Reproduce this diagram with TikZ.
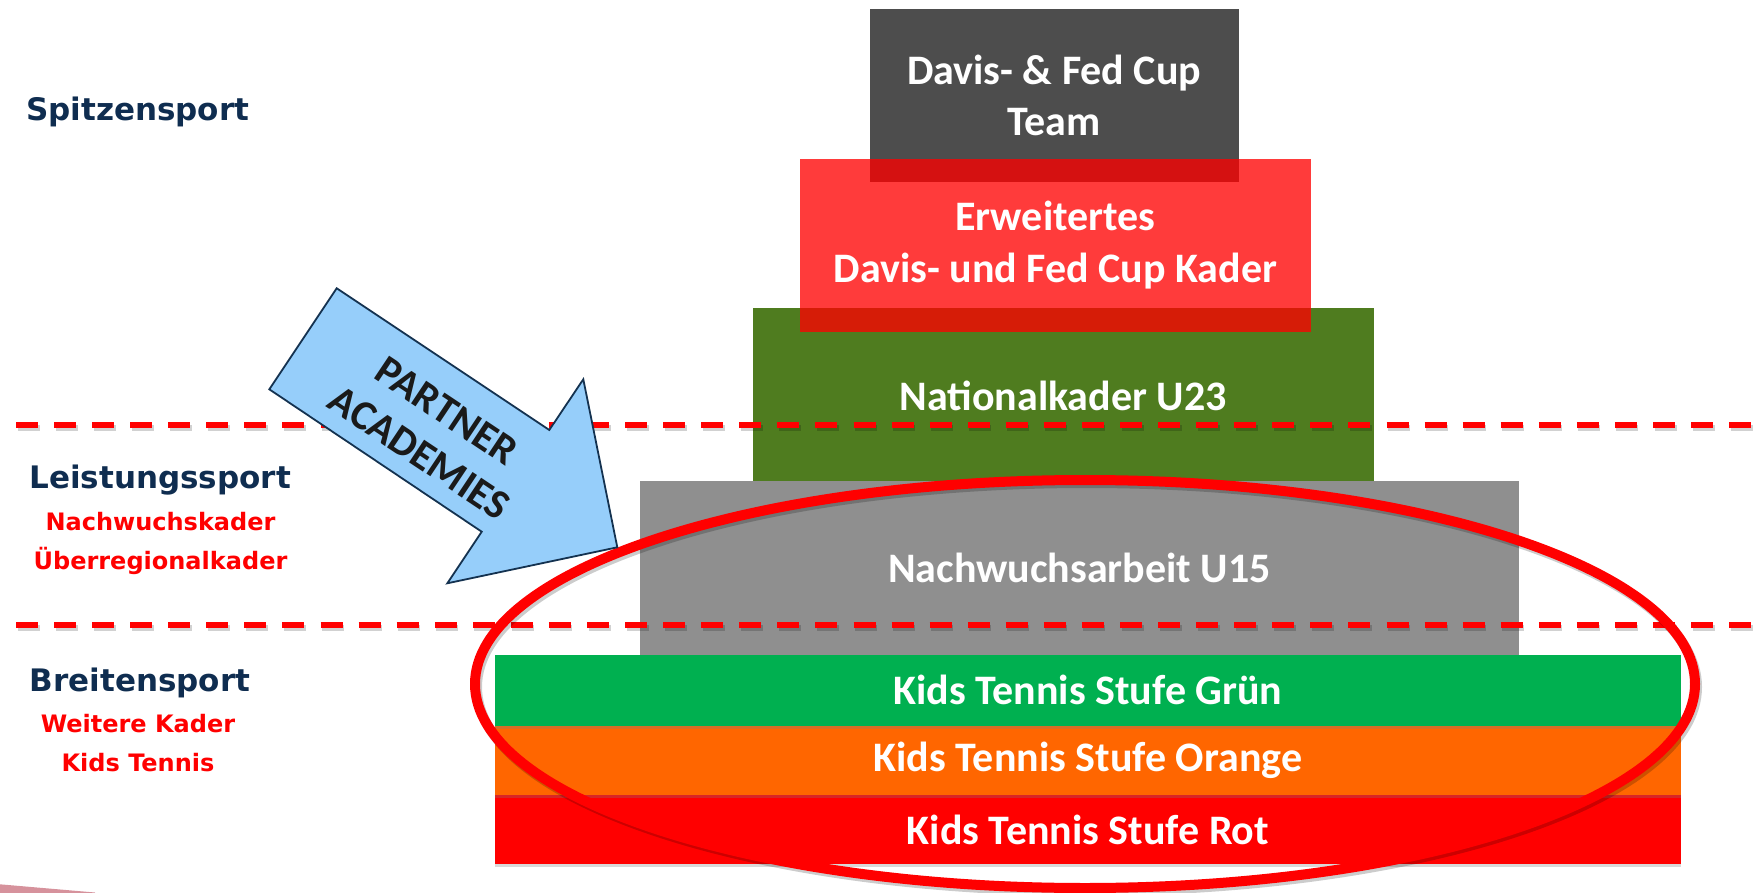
\documentclass[tikz,border=0pt]{standalone}
\usepackage{fontspec}
\newfontfamily\calfont{Carlito}
\newfontfamily\dvfont{DejaVu Sans}
\usetikzlibrary{shadows}
\definecolor{davisgray}{RGB}{77,77,77}
\definecolor{natgreen}{RGB}{79,124,31}
\definecolor{nwgray}{RGB}{143,143,143}
\definecolor{kidgreen}{RGB}{0,176,80}
\definecolor{kidorange}{RGB}{255,102,0}
\definecolor{kidred}{RGB}{255,0,0}
\definecolor{navytext}{RGB}{15,45,80}
\definecolor{arrowblue}{RGB}{150,206,250}
\definecolor{arrowline}{RGB}{20,50,80}
\definecolor{pinkband}{RGB}{214,146,156}
\definecolor{textdark}{RGB}{26,26,26}
\begin{document}
\begin{tikzpicture}[x=1pt,y=-1pt,
  lvl/.style={inner sep=0pt, outer sep=0pt, text=white, align=center,
    font=\calfont\bfseries\fontsize{42}{51.75}\selectfont},
  kid/.style={lvl, minimum width=1185.75pt,
    drop shadow={shadow xshift=0pt, shadow yshift=-3pt, opacity=0.3}},
  dashln/.style={draw=red, line width=6pt, dash pattern=on 22pt off 16.07pt},
  dashsh/.style={draw=black, opacity=0.18, line width=6pt, dash pattern=on 22pt off 16.07pt},
  ringln/.style={draw=red, line width=10pt},
  ringsh/.style={draw=black, opacity=0.2, line width=10pt},
  head/.style={text=navytext, font=\dvfont\bfseries\fontsize{31}{34}\selectfont, inner sep=0pt},
  sublbl/.style={text=red, font=\dvfont\bfseries\fontsize{24}{39}\selectfont, align=center, inner sep=0pt},
  arrtxt/.style={text=textdark, align=center, inner sep=0pt,
    font=\calfont\bfseries\fontsize{42}{50}\selectfont}
]
\useasboundingbox (0,0) rectangle (1764,893);

% pyramid levels
\node[lvl, fill=davisgray, minimum width=369pt, minimum height=173pt] (davis) at (1054.1,95.5) {Davis- \& Fed Cup\\Team};
\node[lvl, fill=natgreen, minimum width=621pt, minimum height=175.8pt] (nat) at (1063.1,395.9) {Nationalkader U23};
\node[lvl, fill=red, fill opacity=0.77, text opacity=1, minimum width=510.6pt, minimum height=173.3pt] (erw) at (1055.3,245.2) {Erweitertes\\Davis- und Fed Cup Kader};
\node[lvl, fill=nwgray, minimum width=878.8pt, minimum height=173.3pt] (nw) at (1079.4,568.1) {Nachwuchsarbeit U15};
\node[kid, fill=kidred, minimum height=68.6pt] (rot) at (1087.9,829.7) {Kids Tennis Stufe Rot};
\node[kid, fill=kidorange, minimum height=69.8pt] (orange) at (1087.9,760.5) {Kids Tennis Stufe Orange};
\node[kid, fill=kidgreen, minimum height=70.8pt] (gruen) at (1087.9,690.2) {Kids Tennis Stufe Grün};

% dashed separators
\coordinate (l1a) at (16,425);
\coordinate (l1b) at (1751,425);
\coordinate (l2a) at (16,625);
\coordinate (l2b) at (1751,625);
\draw[dashsh] ([shift={(1.5,2.5)}]l1a) -- ([shift={(1.5,2.5)}]l1b);
\draw[dashsh] ([shift={(1.5,2.5)}]l2a) -- ([shift={(1.5,2.5)}]l2b);
\draw[dashln] (l1a) -- (l1b);
\draw[dashln] (l2a) -- (l2b);

% ring
\coordinate (ringc) at (1085,684);
\draw[ringsh] ([shift={(2,3)}]ringc) ellipse [x radius=610, y radius=204];
\draw[ringln] (ringc) ellipse [x radius=610, y radius=204];

% arrow
\coordinate (aA) at (336.7,288.3);
\coordinate (aG) at (549.3,430);
\coordinate (aF) at (583.3,379.3);
\coordinate (aE) at (617.3,547.3);
\coordinate (aD) at (447.3,583.3);
\coordinate (aC) at (481.7,531.7);
\coordinate (aB) at (269.3,389.3);
\fill[black, opacity=0.18, shift={(2,3)}] (aA) -- (aG) -- (aF) -- (aE) -- (aD) -- (aC) -- (aB) -- cycle;
\filldraw[fill=arrowblue, draw=arrowline, line width=1.8pt, line join=miter]
  (aA) -- (aG) -- (aF) -- (aE) -- (aD) -- (aC) -- (aB) -- cycle;
\node[arrtxt, rotate=-33.7] (partner) at (433,432) {PARTNER\\ACADEMIES};

% left labels
\node[head] (spitz) at (137.8,111.5) {Spitzensport};
\node[head] (leist) at (160.3,480.5) {Leistungssport};
\node[sublbl] (leistsub) at (160.5,543) {Nachwuchskader\\Überregionalkader};
\node[head] (breit) at (140,682.5) {Breitensport};
\node[sublbl] (breitsub) at (138,743.5) {Weitere Kader\\Kids Tennis};

% corner decoration
\fill[pinkband] (0,884.3) -- (95,892.5) -- (95,893) -- (0,893) -- cycle;
\end{tikzpicture}
\end{document}
